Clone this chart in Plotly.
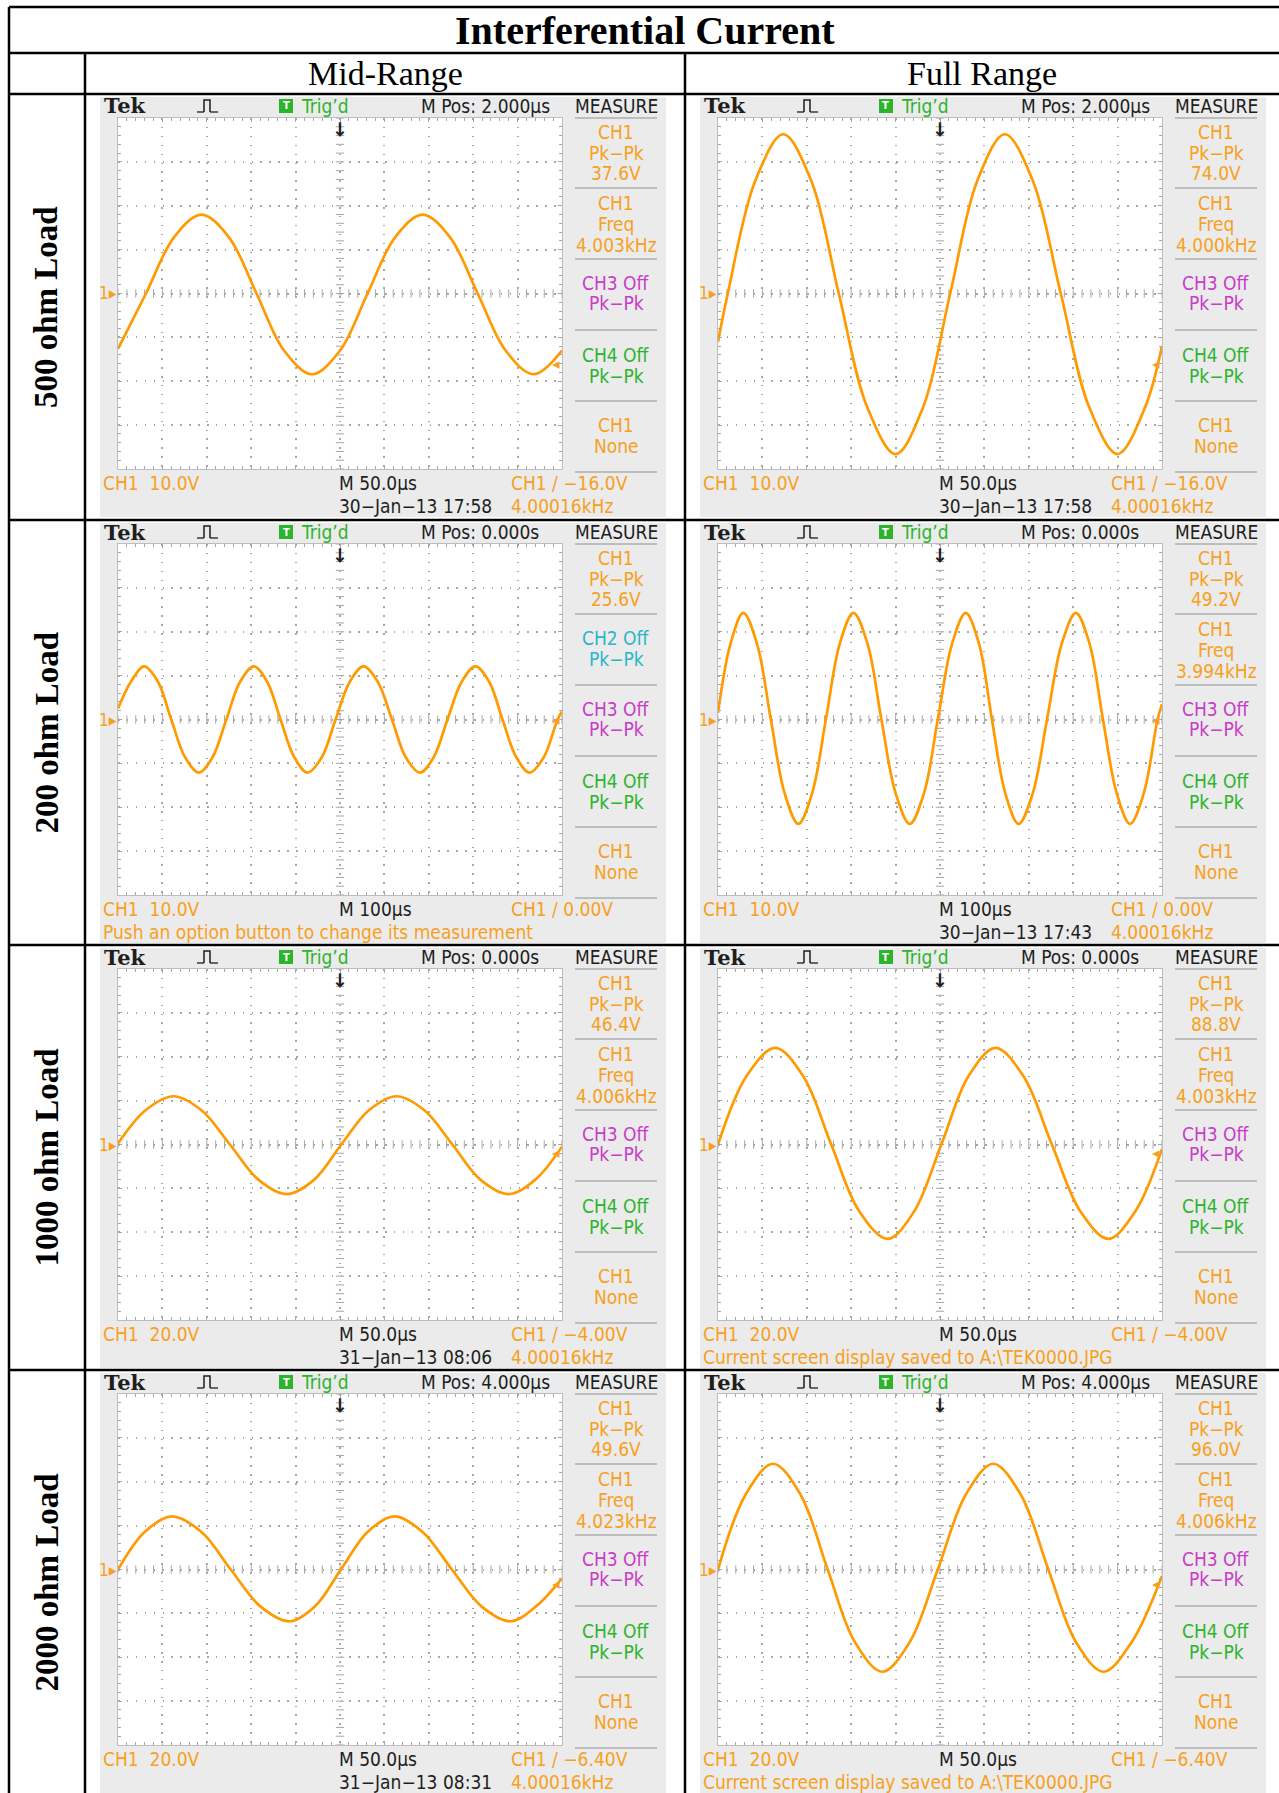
import numpy as np
import plotly.graph_objects as go

W, H = 1279, 1793

TITLE = "Interferential Current"
COLUMNS = ["Mid-Range", "Full Range"]
LOADS = ["500 ohm Load", "200 ohm Load", "1000 ohm Load", "2000 ohm Load"]

# scope settings, one entry per table row (both columns share them)
VOLT_DIV = [10.0, 10.0, 20.0, 20.0]
TIME_DIV = [50.0, 100.0, 50.0, 50.0]
TIME_LABEL = ["M 50.0µs", "M 100µs", "M 50.0µs", "M 50.0µs"]
M_POS = ["M Pos: 2.000µs", "M Pos: 0.000s", "M Pos: 0.000s", "M Pos: 4.000µs"]
TRIG_LEVEL = [-16.0, 0.0, -4.0, -6.4]
TRIG_TEXT = ["−16.0V", "0.00V", "−4.00V", "−6.40V"]
TRIG_FREQ = "4.00016kHz"

# measurements, [mid, full] per row
PKPK = [[37.6, 74.0], [25.6, 49.2], [46.4, 88.8], [49.6, 96.0]]
FREQ = [["4.003kHz", "4.000kHz"], [None, "3.994kHz"],
        ["4.006kHz", "4.003kHz"], ["4.023kHz", "4.006kHz"]]
DATE = [["30−Jan−13 17:58", "30−Jan−13 17:58"], [None, "30−Jan−13 17:43"],
        ["31−Jan−13 08:06", None], ["31−Jan−13 08:31", None]]
MESSAGE = [[None, None],
           ["Push an option button to change its measurement", None],
           [None, "Current screen display saved to A:\\TEK0000.JPG"],
           [None, "Current screen display saved to A:\\TEK0000.JPG"]]

# waveform points (time in µs, volts)
MID_500_T = [0, 31.5, 63, 94, 125, 156, 187, 218.5, 250, 281, 312, 343, 374, 405, 436.5, 468, 500]
MID_500_V = [-12.6, 0, 12.8, 18.0, 12.8, 0, -13.0, -18.4, -13.0, 0, 12.8, 18.0, 12.8, 0, -13.0, -18.4, -13.0]
FULL_500_T = [0, 11, 42, 73.5, 105, 136, 168, 200, 231, 261.5, 292, 323, 354.5, 386, 418, 450, 481, 500]
FULL_500_V = [-11, 0, 25.7, 36.3, 25.7, 0, -25.9, -36.6, -25.9, 0, 25.7, 36.3, 25.7, 0, -25.9, -36.6, -25.9, -12]
MID_200_T = [0, 29, 59, 90, 120, 151, 182, 213, 244, 275, 306, 336, 366, 397, 427, 459, 490,
             522, 553, 585, 617, 648, 680, 711, 742, 774, 805, 836, 866, 897, 927, 959, 990, 1000]
MID_200_V = [2.5, 8.6, 12.1, 8.6, 0, -8.6, -12.1, -8.6, 0, 8.6, 12.1, 8.6, 0, -8.6, -12.1, -8.6, 0,
             8.6, 12.1, 8.6, 0, -8.6, -12.1, -8.6, 0, 8.6, 12.1, 8.6, 0, -8.6, -12.1, -8.6, 0, 1.8]
FULL_200_T = [0, 28, 57, 88, 119, 150, 181, 212, 243, 274, 305, 337, 368, 400, 432, 464, 495,
              527, 558, 588, 617, 647, 677, 709, 741, 774, 806, 837, 867, 898, 928, 959, 990, 1000]
FULL_200_V = [1.5, 17.2, 24.3, 17.2, 0, -16.8, -23.8, -16.8, 0, 17.2, 24.3, 17.2, 0, -16.8, -23.8, -16.8, 0,
              17.2, 24.3, 17.2, 0, -16.8, -23.8, -16.8, 0, 17.2, 24.3, 17.2, 0, -16.8, -23.8, -16.8, 0, 3.5]
MID_1000_T = [0, 31, 62.5, 94, 126, 158, 190, 221, 251.5, 282.5, 313.5, 345, 376.5, 408, 440, 470, 500]
MID_1000_V = [0.5, 15.6, 22, 15.6, 0, -16, -22.6, -16, 0, 15.6, 22, 15.6, 0, -16, -22.6, -16, -1]
FULL_1000_T = [0, 32, 64.5, 96, 127.5, 159, 191, 221, 251.5, 282, 312.5, 344, 376, 408, 439.5, 470, 500]
FULL_1000_V = [0, 31.1, 44, 31.1, 0, -30.4, -43, -30.4, 0, 31.1, 44, 31.1, 0, -30.4, -43, -30.4, -2]
MID_2000_T = [0, 30, 60.5, 94, 127, 160, 193, 222, 251, 281, 311, 343, 376, 409, 442, 471, 500]
MID_2000_V = [0, 17.1, 24.2, 17.1, 0, -16.7, -23.6, -16.7, 0, 17.1, 24.2, 17.1, 0, -16.7, -23.6, -16.7, -4]
FULL_2000_T = [0, 31, 62, 93, 123.5, 154, 185, 216, 247.5, 279, 310, 341, 372, 403, 434, 466, 500]
FULL_2000_V = [0, 34.1, 48.2, 34.1, 0, -33, -46.6, -33, 0, 34.1, 48.2, 34.1, 0, -33, -46.6, -33, -3]

WAVES = [[(MID_500_T, MID_500_V), (FULL_500_T, FULL_500_V)],
         [(MID_200_T, MID_200_V), (FULL_200_T, FULL_200_V)],
         [(MID_1000_T, MID_1000_V), (FULL_1000_T, FULL_1000_V)],
         [(MID_2000_T, MID_2000_V), (FULL_2000_T, FULL_2000_V)]]

# couleurs de l'écran
ORANGE = "#f8a01e"
TRACE = "#ff9a00"
MAGENTA = "#c83cc8"
GREEN = "#2db42d"
CYAN = "#2ab6c8"
BLACK = "#1e1e1e"
PANEL = "#ebebeb"
GRID = "#a6a6a6"
BORDER = "#bdbdbd"

SCOPE_FONT = "Liberation Sans Narrow, Arial Narrow, DejaVu Sans Condensed, Roboto, sans-serif"
SERIF = "Liberation Serif, Times New Roman, DejaVu Serif, serif"

# table geometry (px)
ROW_TOP = [94, 520, 945, 1370]
COL_LEFT = [85, 685]


def fx(x):
    return x / W


def fy(y):
    return 1 - y / H


shapes = []
annotations = []


def line(x0, y0, x1, y1, color, width, layer="above"):
    shapes.append(dict(type="line", xref="paper", yref="paper", layer=layer,
                       x0=fx(x0), y0=fy(y0), x1=fx(x1), y1=fy(y1),
                       line=dict(color=color, width=width)))


def rect(x0, y0, x1, y1, fill, layer="below"):
    shapes.append(dict(type="rect", xref="paper", yref="paper", layer=layer,
                       x0=fx(x0), y0=fy(y1), x1=fx(x1), y1=fy(y0),
                       fillcolor=fill, line=dict(width=0)))


def text(x, y, s, color=BLACK, size=18, anchor="left", family=SCOPE_FONT, **kw):
    annotations.append(dict(x=fx(x), y=fy(y), xref="paper", yref="paper", text=s,
                            showarrow=False, xanchor=anchor, yanchor="middle",
                            font=dict(family=family, size=size, color=color), **kw))


fig = go.Figure()
axes = {}

for r in range(4):
    for c in range(2):
        n = r * 2 + c + 1
        sfx = "" if n == 1 else str(n)
        cl, rt = COL_LEFT[c], ROW_TOP[r]
        td, vd = TIME_DIV[r], VOLT_DIV[r]
        gx0, gx1 = cl + 33, cl + 477
        gy0, gy1 = rt + 24, rt + 375

        # fond de l'écran + graticule
        rect(cl + 15, rt + 3, cl + 581, rt + 423, PANEL)
        rect(gx0, gy0, gx1, gy1, "white")

        common = dict(showticklabels=False, zeroline=False, showline=True,
                      linecolor=BORDER, linewidth=1, mirror="allticks",
                      ticks="inside", ticklen=4, tickcolor=GRID,
                      showgrid=True, gridcolor=GRID, gridwidth=1.5,
                      griddash="1.5px,7.4px", fixedrange=True)
        axes["xaxis" + sfx] = dict(domain=[fx(gx0), fx(gx1)], range=[0, 10 * td],
                                   dtick=td, tick0=0, anchor="y" + sfx,
                                   minor=dict(dtick=td / 5, tick0=0, ticks="inside",
                                              ticklen=3, tickcolor=GRID, showgrid=False),
                                   **common)
        axes["yaxis" + sfx] = dict(domain=[fy(gy1), fy(gy0)], range=[-4 * vd, 4 * vd],
                                   dtick=vd, tick0=0, anchor="x" + sfx,
                                   minor=dict(dtick=vd / 5, tick0=0, ticks="inside",
                                              ticklen=3, tickcolor=GRID, showgrid=False),
                                   **common)

        # graduations de l'axe central
        fig.add_trace(go.Scatter(x=np.arange(0, 10 * td + 1e-9, td / 5), y=np.zeros(51),
                                 mode="markers", hoverinfo="skip", showlegend=False,
                                 marker=dict(symbol="line-ns", size=6,
                                             line=dict(color=GRID, width=1)),
                                 xaxis="x" + sfx, yaxis="y" + sfx))
        fig.add_trace(go.Scatter(x=np.full(41, 5 * td), y=np.arange(-4 * vd, 4 * vd + 1e-9, vd / 5),
                                 mode="markers", hoverinfo="skip", showlegend=False,
                                 marker=dict(symbol="line-ew", size=6,
                                             line=dict(color=GRID, width=1)),
                                 xaxis="x" + sfx, yaxis="y" + sfx))

        t, v = WAVES[r][c]
        fig.add_trace(go.Scatter(x=t, y=v, mode="lines", showlegend=False,
                                 line=dict(color=TRACE, width=2.7, shape="spline", smoothing=1),
                                 xaxis="x" + sfx, yaxis="y" + sfx))

        # ligne d'en-tête
        text(cl + 17, rt + 12, "<b>Tek</b>", BLACK, 21, family="DejaVu Serif, serif")
        px0, yb, yt = cl + 112, rt + 18, rt + 6
        shapes.append(dict(type="path", xref="paper", yref="paper",
                           path="M " + " L ".join(f"{fx(a):.5f},{fy(b):.5f}" for a, b in
                                                  [(px0 + 7, yb), (px0 + 7, yt), (px0 + 13, yt), (px0 + 13, yb)]),
                           line=dict(color=BLACK, width=1.5)))
        line(px0, yb, px0 + 7, yb, BLACK, 1.3)
        line(px0 + 13, yb, px0 + 21, yb, BLACK, 1.3)
        rect(cl + 194, rt + 5, cl + 208, rt + 19, GREEN, layer="above")
        text(cl + 201, rt + 12, "<b>T</b>", "white", 11, anchor="center")
        text(cl + 214, rt + 12, "Trig’d", GREEN, 19)
        text(cl + 334, rt + 12, M_POS[r], BLACK, 19)
        text(cl + 531, rt + 12, "MEASURE", BLACK, 19, anchor="center")

        # panneau MEASURE
        for yy in [24, 94, 165, 236, 307, 378]:
            line(cl + 490, rt + yy, cl + 572, rt + yy, BORDER, 2)
        mx = cl + 531
        text(mx, rt + 38, "CH1", ORANGE, 19, anchor="center")
        text(mx, rt + 59, "Pk−Pk", ORANGE, 19, anchor="center")
        text(mx, rt + 79, f"{PKPK[r][c]:.1f}V", ORANGE, 19, anchor="center")
        if FREQ[r][c]:
            text(mx, rt + 109, "CH1", ORANGE, 19, anchor="center")
            text(mx, rt + 130, "Freq", ORANGE, 19, anchor="center")
            text(mx, rt + 151, FREQ[r][c], ORANGE, 19, anchor="center")
        else:
            text(mx, rt + 118, "CH2 Off", CYAN, 19, anchor="center")
            text(mx, rt + 139, "Pk−Pk", CYAN, 19, anchor="center")
        text(mx, rt + 189, "CH3 Off", MAGENTA, 19, anchor="center")
        text(mx, rt + 209, "Pk−Pk", MAGENTA, 19, anchor="center")
        text(mx, rt + 261, "CH4 Off", GREEN, 19, anchor="center")
        text(mx, rt + 282, "Pk−Pk", GREEN, 19, anchor="center")
        text(mx, rt + 331, "CH1", ORANGE, 19, anchor="center")
        text(mx, rt + 352, "None", ORANGE, 19, anchor="center")

        # bas de l'écran
        text(cl + 16, rt + 389, f"CH1  {vd:.1f}V", ORANGE, 19)
        text(cl + 252, rt + 389, TIME_LABEL[r], BLACK, 19)
        text(cl + 424, rt + 389, "CH1 / " + TRIG_TEXT[r], ORANGE, 19)
        if DATE[r][c]:
            text(cl + 252, rt + 412, DATE[r][c], BLACK, 19)
            text(cl + 424, rt + 412, TRIG_FREQ, ORANGE, 19)
        if MESSAGE[r][c]:
            text(cl + 16, rt + 412, MESSAGE[r][c], ORANGE, 19)

        # repères : niveau de masse, position du trigger, niveau du trigger
        annotations.append(dict(x=fx(gx0 + 1), xref="paper", y=0, yref="y" + sfx,
                                text="1▸", showarrow=False, xanchor="right", yanchor="middle",
                                font=dict(family=SCOPE_FONT, size=17, color=ORANGE)))
        annotations.append(dict(x=5 * td, xref="x" + sfx, y=fy(gy0 - 2), yref="paper",
                                text="<b>↓</b>", showarrow=False, xanchor="center", yanchor="top",
                                font=dict(family="DejaVu Sans", size=19, color=BLACK)))
        annotations.append(dict(x=10 * td, xref="x" + sfx, y=TRIG_LEVEL[r], yref="y" + sfx,
                                text="◂", showarrow=False, xanchor="right", yanchor="middle",
                                font=dict(family="DejaVu Sans", size=15, color=ORANGE)))

# tableau
TL, TT, TR = 9, 7, 1279
for yy in [TT, 53, 94] + ROW_TOP[1:]:
    line(TL, yy, TR, yy, "black", 2.5)
line(TL, TT, TL, H, "black", 2.5)
line(85, 53, 85, H, "black", 2.5)
line(685, 53, 685, H, "black", 2.5)

text(645, 30, f"<b>{TITLE}</b>", "black", 40, anchor="center", family=SERIF)
text(385, 74, COLUMNS[0], "black", 34, anchor="center", family=SERIF)
text(982, 74, COLUMNS[1], "black", 34, anchor="center", family=SERIF)
for r, lab in enumerate(LOADS):
    rb = ROW_TOP[r + 1] if r < 3 else 1795
    text(46, (ROW_TOP[r] + rb) / 2, f"<b>{lab}</b>", "black", 33, anchor="center",
         family=SERIF, textangle=-90)

fig.update_layout(
    width=W, height=H,
    margin=dict(l=0, r=0, t=0, b=0),
    paper_bgcolor="white",
    plot_bgcolor="white",
    shapes=shapes,
    annotations=annotations,
    showlegend=False,
    **axes,
)

fig.write_html("out.html", config={"displayModeBar": False},
               post_script="document.body.style.margin='0';")
